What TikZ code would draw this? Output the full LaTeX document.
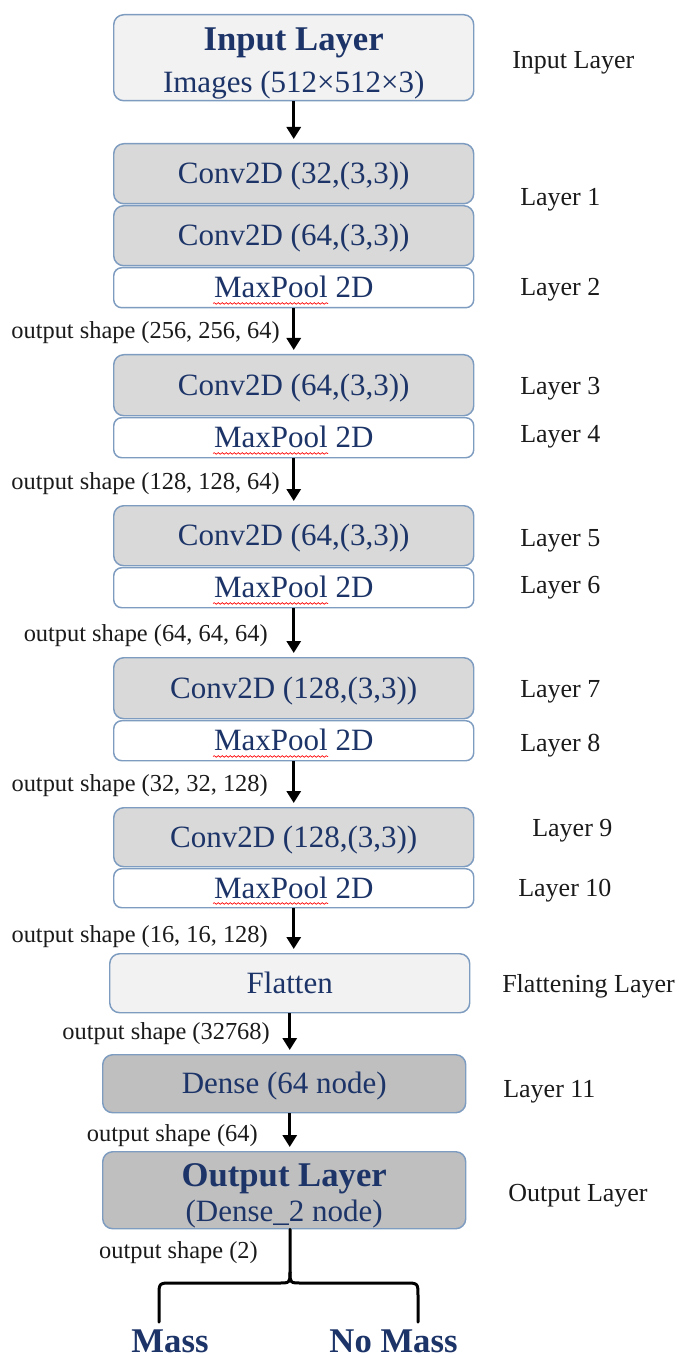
\documentclass[tikz,border=0pt]{standalone}
\usepackage{fontspec}
\setmainfont{Liberation Serif}
\usetikzlibrary{arrows.meta,decorations.pathmorphing,calc}
\definecolor{navy}{RGB}{28,52,104}
\definecolor{bordc}{RGB}{126,156,192}
\definecolor{lightg}{RGB}{242,242,242}
\definecolor{midg}{RGB}{217,217,217}
\definecolor{darkg}{RGB}{191,191,191}
\definecolor{txtk}{RGB}{26,26,26}
\begin{document}
\begin{tikzpicture}[x=0.75pt,y=-0.75pt,
  box/.style={draw=bordc, line width=1.1pt, rounded corners=7.5pt, anchor=north west,
    minimum width=270pt, inner sep=0pt, text=navy, font=\fontsize{23.25pt}{28pt}\selectfont},
  one/.style={text height=20.9pt, text depth=5.6pt},
  conv/.style={box, one, fill=midg, minimum height=45pt},
  pool/.style={box, one, fill=white, minimum height=30pt, rounded corners=6pt},
  arr/.style={line width=2.25pt, -{Triangle[width=10.5pt,length=9pt]}, shorten >=3pt},
  shp/.style={anchor=base east, text=txtk, font=\fontsize{18.3pt}{22pt}\selectfont, inner sep=0pt},
  lay/.style={anchor=base west, text=txtk, font=\fontsize{19.5pt}{23pt}\selectfont, inner sep=0pt},
  cls/.style={anchor=base, text=navy, font=\fontsize{26pt}{30pt}\selectfont\bfseries, inner sep=0pt},
  squig/.style={draw=red, line width=0.5pt, decorate, decoration={snake, segment length=3pt, amplitude=0.6pt}},
  brace/.style={line width=2.25pt, line cap=round, line join=round}
]
\useasboundingbox (0,0) rectangle (678,1358);

% boxes
\node[box, fill=lightg, minimum height=64.5pt, align=center, font=\fontsize{23.25pt}{31.5pt}\selectfont] (in) at (113,14)
  {\rule{0pt}{25pt}{\bfseries\fontsize{26pt}{31.5pt}\selectfont Input Layer}\\Images (512×512×3)};
\node[conv] (c1) at (113,143) {Conv2D (32,(3,3))};
\node[conv] (c2) at (113,205) {Conv2D (64,(3,3))};
\node[pool] (m1) at (113,267) {MaxPool 2D};
\node[conv, minimum height=45.75pt] (c3) at (113,354) {Conv2D (64,(3,3))};
\node[pool] (m2) at (113,417) {MaxPool 2D};
\node[conv] (c4) at (113,505) {Conv2D (64,(3,3))};
\node[pool] (m3) at (113,567) {MaxPool 2D};
\node[conv, minimum height=45.75pt] (c5) at (113,657) {Conv2D (128,(3,3))};
\node[pool] (m4) at (113,720) {MaxPool 2D};
\node[conv, minimum height=44.25pt] (c6) at (113,807) {Conv2D (128,(3,3))};
\node[pool, minimum height=29.25pt] (m5) at (113,868) {MaxPool 2D};
\node[box, one, fill=lightg, minimum height=44.25pt] (fl) at (109,953) {Flatten};
\node[box, one, fill=darkg, minimum width=272.25pt, minimum height=43.5pt] (de) at (102,1054) {Dense (64 node)};
\node[box, fill=darkg, minimum width=272.25pt, minimum height=57.75pt, align=center, font=\fontsize{23.25pt}{26.25pt}\selectfont] (out) at (102,1151)
  {\rule{0pt}{25pt}{\bfseries\fontsize{26pt}{26.25pt}\selectfont Output Layer}\\(Dense\_2 node)};

% spell-check squiggles
\foreach \m in {m1,m2,m3,m4,m5}
  \draw[squig] ($(\m.south west)+(100,-5)$) -- ++(115,0);

% arrows
\draw[arr] (in.south) -- (c1.north);
\draw[arr] (m1.south) -- (c3.north);
\draw[arr] (m2.south) -- (c4.north);
\draw[arr] (m3.south) -- (c5.north);
\draw[arr] (m4.south) -- (c6.north);
\draw[arr] (m5.south) -- (m5.south |- fl.north);
\draw[arr] (fl.south) -- (fl.south |- de.north);
\draw[arr] (de.south -| fl.south) -- (fl.south |- out.north);

% output shape labels
\node[shp] (s1) at (280,339) {output shape (256, 256, 64)};
\node[shp] (s2) at (280,489) {output shape (128, 128, 64)};
\node[shp] (s3) at (268,641) {output shape (64, 64, 64)};
\node[shp] (s4) at (268,791) {output shape (32, 32, 128)};
\node[shp] (s5) at (268,942) {output shape (16, 16, 128)};
\node[shp] (s6) at (270,1039) {output shape (32768)};
\node[shp] (s7) at (258,1141) {output shape (64)};
\node[shp] (s8) at (258,1258) {output shape (2)};

% layer labels
\node[lay] (l0) at (512,69) {Input Layer};
\node[lay] (l1) at (520,206) {Layer 1};
\node[lay] (l2) at (520,296) {Layer 2};
\node[lay] (l3) at (520,394) {Layer 3};
\node[lay] (l4) at (520,442) {Layer 4};
\node[lay] (l5) at (520,546) {Layer 5};
\node[lay] (l6) at (520,593) {Layer 6};
\node[lay] (l7) at (520,697) {Layer 7};
\node[lay] (l8) at (520,751) {Layer 8};
\node[lay] (l9) at (532,836) {Layer 9};
\node[lay] (l10) at (518,896) {Layer 10};
\node[lay] (lf) at (502,992) {Flattening Layer};
\node[lay] (l11) at (503,1097) {Layer 11};
\node[lay] (lo) at (508,1201) {Output Layer};

% classes and brace
\node[cls] (mass) at (170,1352) {Mass};
\node[cls] (nomass) at (393.5,1352) {No Mass};
\coordinate (bt) at (290,1272);
\coordinate (bl) at (159,1322);
\coordinate (br) at (418,1322);
\draw[brace] (out.south -| bt) -- (bt) .. controls (290,1283) .. (278,1283) -- (172,1283)
  .. controls (159,1283) .. (159,1296) -- (bl);
\draw[brace] (bt) .. controls (290,1283) .. (302,1283) -- (405,1283)
  .. controls (418,1283) .. (418,1296) -- (br);
\end{tikzpicture}
\end{document}
